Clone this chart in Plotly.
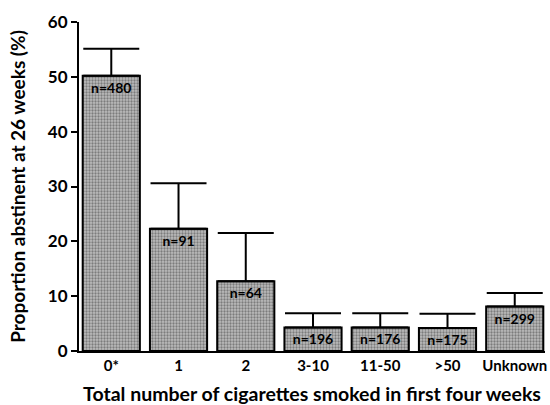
import plotly.graph_objects as go

categories = ["0*", "1", "2", "3-10", "11-50", ">50", "Unknown"]
values = [50.2, 22.3, 12.7, 4.3, 4.3, 4.2, 8.1]
upper_err = [4.9, 8.3, 8.8, 2.6, 2.6, 2.6, 2.5]
n_labels = ["n=480", "n=91", "n=64", "n=196", "n=176", "n=175", "n=299"]

FONT = "Lato"

fig = go.Figure(go.Bar(
    x=categories,
    y=values,
    width=0.85,
    text=n_labels,
    textposition="inside",
    insidetextanchor="end",
    textangle=0,
    constraintext="none",
    textfont=dict(family=FONT, size=14, color="black", weight="bold"),
    marker=dict(
        color="#a0a0a0",
        line=dict(color="black", width=2),
        pattern=dict(shape=".", fgcolor="#3c3c3c", bgcolor="#bcbcbc", size=3, solidity=0.45),
    ),
    error_y=dict(type="data", symmetric=False, array=upper_err,
                 arrayminus=[0] * len(values), color="black", thickness=2, width=28),
))

fig.update_layout(
    width=550, height=405,
    margin=dict(l=79, r=5, t=22, b=54),
    paper_bgcolor="white", plot_bgcolor="white",
    showlegend=False,
    font=dict(family=FONT, color="black"),
    xaxis=dict(
        range=[-0.48, 6.45], showline=True, linecolor="black", linewidth=2,
        ticks="", automargin=False,
        tickfont=dict(family=FONT, size=15, weight="bold"),
        title=dict(text="Total number of cigarettes smoked in first four weeks",
                   font=dict(family=FONT, size=19.5, weight="bold"), standoff=18),
        showgrid=False,
    ),
    yaxis=dict(
        range=[0, 60], tickvals=[0, 10, 20, 30, 40, 50, 60],
        showline=True, linecolor="black", linewidth=2, automargin=False,
        ticks="outside", ticklen=6, tickwidth=2, tickcolor="black",
        tickfont=dict(family=FONT, size=17, weight="bold"),
        title=dict(text="Proportion abstinent at 26 weeks (%)",
                   font=dict(family=FONT, size=19, weight="bold"), standoff=17),
        showgrid=False, zeroline=False,
    ),
)

fig.write_html("out.html", config={"displayModeBar": False},
               post_script="document.body.style.margin='0';")
